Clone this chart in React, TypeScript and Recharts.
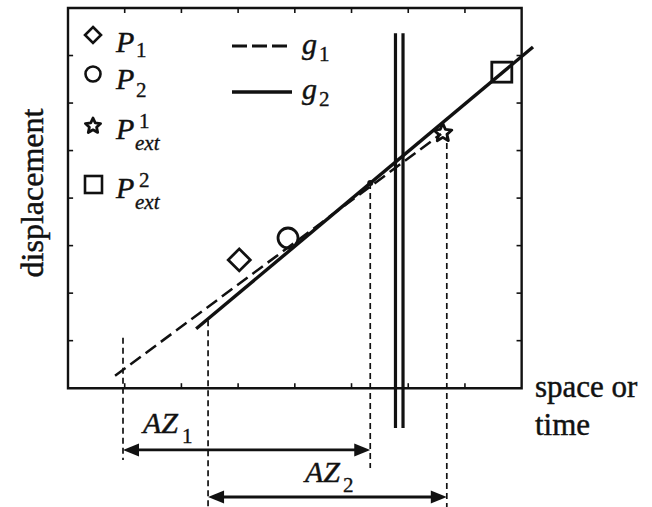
import React from "react";
import {
  ComposedChart,
  Line,
  Scatter,
  XAxis,
  YAxis,
  ReferenceArea,
  ReferenceLine,
  ReferenceDot,
  Legend,
  Customized,
} from "recharts";

// frame ticks (inward, all four sides)
const boxTicks = [1, 2, 3, 4, 5, 6, 7];

// fitted lines
const g1Line = [
  { x: 0.83, y: 0.26 },
  { x: 6.58, y: 5.35 },
];
const g2Line = [
  { x: 2.26, y: 1.25 },
  { x: 8.2, y: 7.18 },
];

// measured / extrapolated points
const p1 = [{ x: 3.02, y: 2.7 }];
const p2 = [{ x: 3.88, y: 3.16 }];
const pExt1 = [{ x: 6.61, y: 5.37 }];
const pExt2 = [{ x: 7.65, y: 6.65 }];

// double vertical bar
const wallX = [5.775, 5.908];
const wallY = [-0.84, 7.47];

// dashed drop lines
const dropX = [0.97, 2.47, 5.33, 6.68];
const dropTop = [1.06, 1.43, 4.32, 5.37];
const dropBottom = [-1.51, -2.5, -1.68, -2.5];

// AZ arrows
const azFrom = [0.97, 2.47];
const azTo = [5.33, 6.68];
const azY = [-1.3, -2.29];

const INK = "#111";
const SERIF = "'Liberation Serif', 'Times New Roman', serif";
const TICK_X = 0.09;
const TICK_Y = 0.105;

const DiamondShape = (props: any) => {
  const { cx, cy } = props;
  const h = 11;
  return (
    <polygon
      points={`${cx},${cy - h} ${cx + h},${cy} ${cx},${cy + h} ${cx - h},${cy}`}
      fill="none"
      stroke={INK}
      strokeWidth={2.8}
    />
  );
};

const CircleShape = (props: any) => (
  <circle cx={props.cx} cy={props.cy} r={10} fill="none" stroke={INK} strokeWidth={2.8} />
);

const starPoints = (cx: number, cy: number, ro: number, ri: number) => {
  const pts: string[] = [];
  for (let i = 0; i < 10; i++) {
    const r = i % 2 === 0 ? ro : ri;
    const a = -Math.PI / 2 + (i * Math.PI) / 5;
    pts.push(`${cx + r * Math.cos(a)},${cy + r * Math.sin(a)}`);
  }
  return pts.join(" ");
};

const StarShape = (props: any) => (
  <polygon
    points={starPoints(props.cx, props.cy, 9.5, 4.4)}
    fill="none"
    stroke={INK}
    strokeWidth={2.8}
    strokeLinejoin="round"
  />
);

const SquareShape = (props: any) => {
  const h = 10;
  return (
    <rect
      x={props.cx - h}
      y={props.cy - h}
      width={2 * h}
      height={2 * h}
      fill="none"
      stroke={INK}
      strokeWidth={2.8}
    />
  );
};

const ArrowShape = (props: any) => {
  const { x1, y1, x2, y2 } = props;
  const len = 16;
  const half = 6.5;
  return (
    <g>
      <line x1={x1 + 8} y1={y1} x2={x2 - 8} y2={y2} stroke={INK} strokeWidth={2.8} />
      <polygon
        points={`${x1},${y1} ${x1 + len},${y1 - half} ${x1 + len},${y1 + half}`}
        fill={INK}
      />
      <polygon
        points={`${x2},${y2} ${x2 - len},${y2 - half} ${x2 - len},${y2 + half}`}
        fill={INK}
      />
    </g>
  );
};

const ink = { fill: INK, stroke: INK, strokeWidth: 0.45 };
const italic = { fontFamily: SERIF, fontStyle: "italic", fontSize: 30, ...ink } as const;
const small = { fontFamily: SERIF, fontSize: 21, ...ink, strokeWidth: 0.35 } as const;
const smallItalic = { fontFamily: SERIF, fontStyle: "italic", fontSize: 21, ...ink, strokeWidth: 0.35 } as const;
const plain = { fontFamily: SERIF, fontSize: 31, ...ink } as const;

const LegendBox = () => (
  <svg width={340} height={220} style={{ display: "block", overflow: "visible" }}>
    <polygon points="93,27 101,35 93,43 85,35" fill="none" stroke={INK} strokeWidth={2.6} />
    <circle cx={93} cy={74} r={7.5} fill="none" stroke={INK} strokeWidth={2.6} />
    <polygon
      points={starPoints(93, 126, 8, 3.8)}
      fill="none"
      stroke={INK}
      strokeWidth={2.8}
      strokeLinejoin="round"
    />
    <rect x={85} y={176} width={17} height={17} fill="none" stroke={INK} strokeWidth={2.6} />

    <text x={116} y={52} style={italic}>P</text>
    <text x={136} y={57} style={small}>1</text>
    <text x={116} y={89} style={italic}>P</text>
    <text x={136} y={97} style={small}>2</text>
    <text x={116} y={139} style={italic}>P</text>
    <text x={139} y={128} style={small}>1</text>
    <text x={135} y={150} style={smallItalic}>ext</text>
    <text x={116} y={198} style={italic}>P</text>
    <text x={139} y={187} style={small}>2</text>
    <text x={135} y={209} style={smallItalic}>ext</text>

    <line x1={232} y1={46} x2={292} y2={46} stroke={INK} strokeWidth={3.2} strokeDasharray="15 5" />
    <line x1={232} y1={92} x2={292} y2={92} stroke={INK} strokeWidth={3.4} />
    <text x={302} y={54} style={italic}>g</text>
    <text x={319} y={61} style={small}>1</text>
    <text x={302} y={99} style={italic}>g</text>
    <text x={319} y={106} style={small}>2</text>
  </svg>
);

const Annotations = () => (
  <g>
    <text x={43} y={193} textAnchor="middle" transform="rotate(-90 43 193)" style={{ ...plain, fontSize: 32 }}>
      displacement
    </text>
    <text x={535} y={397} style={plain}>space or</text>
    <text x={535} y={435} style={plain}>time</text>
    <text x={143} y={433} style={italic}>AZ</text>
    <text x={182} y={443} style={small}>1</text>
    <text x={305} y={482} style={italic}>AZ</text>
    <text x={343} y={492} style={small}>2</text>
  </g>
);

export default function App() {
  return (
    <div style={{ position: "absolute", left: 0, top: 0, background: "#fff" }}>
      <ComposedChart
        width={652}
        height={507}
        margin={{ top: 8, right: 102, bottom: 0, left: 68 }}
      >
        <XAxis type="number" dataKey="x" domain={[0, 8.5]} hide />
        <YAxis type="number" dataKey="y" domain={[-2.5, 8]} hide />

        <ReferenceArea
          x1={0}
          x2={8}
          y1={0}
          y2={8}
          fill="none"
          fillOpacity={0}
          stroke={INK}
          strokeWidth={2.4}
          ifOverflow="visible"
        />
        {boxTicks.map((t) => (
          <ReferenceLine
            key={`b${t}`}
            segment={[{ x: t, y: 0 }, { x: t, y: TICK_Y }]}
            stroke={INK}
            strokeWidth={1.6}
            ifOverflow="visible"
          />
        ))}
        {boxTicks.map((t) => (
          <ReferenceLine
            key={`t${t}`}
            segment={[{ x: t, y: 8 }, { x: t, y: 8 - TICK_Y }]}
            stroke={INK}
            strokeWidth={1.6}
            ifOverflow="visible"
          />
        ))}
        {boxTicks.map((t) => (
          <ReferenceLine
            key={`l${t}`}
            segment={[{ x: 0, y: t }, { x: TICK_X, y: t }]}
            stroke={INK}
            strokeWidth={1.6}
            ifOverflow="visible"
          />
        ))}
        {boxTicks.map((t) => (
          <ReferenceLine
            key={`r${t}`}
            segment={[{ x: 8, y: t }, { x: 8 - TICK_X, y: t }]}
            stroke={INK}
            strokeWidth={1.6}
            ifOverflow="visible"
          />
        ))}

        {dropX.map((x, i) => (
          <ReferenceLine
            key={`d${i}`}
            segment={[{ x, y: dropTop[i] }, { x, y: dropBottom[i] }]}
            stroke={INK}
            strokeWidth={1.7}
            strokeDasharray="6 4"
            ifOverflow="visible"
          />
        ))}
        <ReferenceDot x={dropX[2]} y={dropTop[2]} r={3} fill={INK} stroke="none" ifOverflow="visible" />

        {wallX.map((x, i) => (
          <ReferenceLine
            key={`w${i}`}
            segment={[{ x, y: wallY[0] }, { x, y: wallY[1] }]}
            stroke={INK}
            strokeWidth={3.2}
            ifOverflow="visible"
          />
        ))}

        <Line
          data={g1Line}
          dataKey="y"
          type="linear"
          stroke={INK}
          strokeWidth={2.5}
          strokeDasharray="13 6"
          dot={false}
          activeDot={false}
          isAnimationActive={false}
        />
        <Line
          data={g2Line}
          dataKey="y"
          type="linear"
          stroke={INK}
          strokeWidth={3.4}
          dot={false}
          activeDot={false}
          isAnimationActive={false}
        />

        <Scatter data={p1} dataKey="y" shape={DiamondShape} isAnimationActive={false} />
        <Scatter data={p2} dataKey="y" shape={CircleShape} isAnimationActive={false} />
        <Scatter data={pExt1} dataKey="y" shape={StarShape} isAnimationActive={false} />
        <Scatter data={pExt2} dataKey="y" shape={SquareShape} isAnimationActive={false} />

        {azFrom.map((x, i) => (
          <ReferenceLine
            key={`a${i}`}
            segment={[{ x, y: azY[i] }, { x: azTo[i], y: azY[i] }]}
            shape={ArrowShape}
            ifOverflow="visible"
          />
        ))}

        <Customized component={Annotations} />
        <Legend
          layout="horizontal"
          verticalAlign="middle"
          align="center"
          wrapperStyle={{ left: 0, top: 0, width: 340, height: 220 }}
          content={LegendBox}
        />
      </ComposedChart>
    </div>
  );
}
